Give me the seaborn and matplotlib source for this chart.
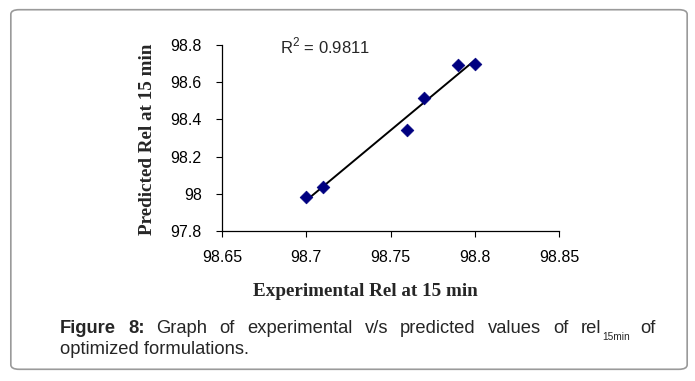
import matplotlib
matplotlib.use("Agg")
import matplotlib.pyplot as plt
import seaborn as sns
import numpy as np
import pandas as pd
from matplotlib.patches import FancyBboxPatch
from matplotlib.ticker import FuncFormatter

# ---- data ----
experimental = [98.70, 98.71, 98.76, 98.77, 98.79, 98.80]
predicted = [97.985, 98.035, 98.343, 98.517, 98.692, 98.700]
x_ticks = [98.65, 98.70, 98.75, 98.80, 98.85]
y_ticks = [97.8, 98.0, 98.2, 98.4, 98.6, 98.8]
r2_label = "R$^2$ = 0.9811"
x_label = "Experimental Rel at 15 min"
y_label = "Predicted Rel at 15 min"

df = pd.DataFrame({"exp": experimental, "pred": predicted})

sns.set_style("white")
plt.rcParams["font.family"] = ["Liberation Sans", "DejaVu Sans"]
plt.rcParams["mathtext.fontset"] = "custom"
plt.rcParams["mathtext.rm"] = "Liberation Sans"

W, H = 695, 381
fig = plt.figure(figsize=(W / 100, H / 100), dpi=100)
ax = fig.add_axes([222 / W, 1 - 231 / H, (559 - 222) / W, (231 - 45) / H])

sns.regplot(data=df, x="exp", y="pred", ax=ax, scatter=False, ci=None,
            truncate=True, color="black", line_kws={"linewidth": 1.4})
sns.scatterplot(data=df, x="exp", y="pred", ax=ax, marker="D", s=42,
                color="#000080", edgecolor="#000080", linewidth=0.5, zorder=3)

ax.set_xlim(x_ticks[0], x_ticks[-1])
ax.set_ylim(y_ticks[0], y_ticks[-1])
ax.set_xticks(x_ticks)
ax.set_yticks(y_ticks)
fmt = FuncFormatter(lambda v, p: f"{round(v, 2):g}")
ax.xaxis.set_major_formatter(fmt)
ax.yaxis.set_major_formatter(fmt)
ax.tick_params(axis="both", direction="out", length=4, width=0.8,
               colors="black", labelsize=11.5, bottom=True, left=True)
ax.tick_params(axis="y", pad=10.5)
ax.tick_params(axis="x", pad=9.5)
ax.set_xlabel("")
ax.set_ylabel("")
for s in ["top", "right"]:
    ax.spines[s].set_visible(False)
for s in ["left", "bottom"]:
    ax.spines[s].set_color("black")
    ax.spines[s].set_linewidth(0.9)

ax.text(280 / W, 1 - 46 / H, r2_label, transform=fig.transFigure,
        fontsize=12, va="center", ha="left")

serif = ["Liberation Serif", "DejaVu Serif"]
fig.text(365 / W, 1 - 291 / H, x_label, family=serif, fontweight="bold",
         fontsize=13.8, ha="center", va="center")
fig.text(148 / W, 1 - 139 / H, y_label, family=serif, fontweight="bold",
         fontsize=13.8, ha="center", va="center", rotation=90)

# caption (justified first line)
cap_size = 13.2
sub_size = 7.3
y1 = 1 - 333 / H
y2 = 1 - 354 / H
left_px, right_px = 60, 657
units = [[("Figure", "bold", False)], [("8:", "bold", False)],
         [("Graph", "normal", False)], [("of", "normal", False)],
         [("experimental", "normal", False)], [("v/s", "normal", False)],
         [("predicted", "normal", False)], [("values", "normal", False)],
         [("of", "normal", False)],
         [("rel", "normal", False), ("15min", "normal", True)],
         [("of", "normal", False)]]
renderer = fig.canvas.get_renderer()
unit_objs = []
unit_w = []
for u in units:
    objs = []
    w_total = 0.0
    for txt, wt, sub in u:
        t = fig.text(0, y1 - (7 / H if sub else 0), txt, fontweight=wt,
                     fontsize=sub_size if sub else cap_size, va="baseline")
        w = t.get_window_extent(renderer).width
        objs.append((t, w_total))
        w_total += w + (1 if not sub else 0)
    unit_objs.append(objs)
    unit_w.append(w_total)
gap = (right_px - left_px - sum(unit_w)) / (len(units) - 1)
xcur = left_px
for objs, w in zip(unit_objs, unit_w):
    for t, off in objs:
        t.set_x((xcur + off) / W)
    xcur += w + gap
fig.text(60 / W, y2, "optimized formulations.", fontsize=cap_size, va="baseline")

# rounded border
box = FancyBboxPatch((15 / W, 14 / H), (683 - 15) / W, (369 - 14) / H,
                     boxstyle="round,pad=0.006,rounding_size=0.012",
                     transform=fig.transFigure, fill=False,
                     edgecolor="#9a9a9a", linewidth=1.2)
fig.patches.append(box)

fig.savefig("out.png", dpi=100)
